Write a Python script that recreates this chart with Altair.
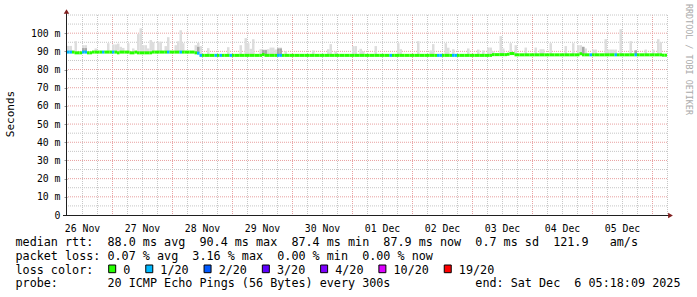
import altair as alt
import pandas as pd

# ---------------- data ----------------
HOUR = 3600 * 1000
START = int(pd.Timestamp("2025-11-26T06:00:00Z").value // 10**6)
N_HOURS = 240
END = START + N_HOURS * HOUR

day_labels = ["26 Nov", "27 Nov", "28 Nov", "29 Nov", "30 Nov",
              "01 Dec", "02 Dec", "03 Dec", "04 Dec", "05 Dec"]

# median rtt (ms), one value per hour starting 26 Nov 06:00
median_rtt = [
    89.6, 89.6, 89.6, 89.2, 89.2, 89.2, 89.6, 89.6, 89.2, 89.2, 89.6, 89.6,
    89.6, 89.6, 89.6, 89.6, 89.6, 89.6, 89.6, 89.6, 89.2, 89.6, 89.6, 89.6,
    89.6, 89.2, 89.2, 89.6, 89.2, 89.2, 89.2, 89.2, 89.2, 89.2, 89.6, 89.6,
    89.6, 89.6, 89.6, 89.6, 89.6, 89.6, 89.6, 89.6, 89.6, 89.6, 89.6, 89.6,
    89.6, 89.6, 89.6, 89.2, 89.0, 87.8, 87.8, 87.8, 87.8, 87.8, 87.8, 87.8,
    87.8, 87.8, 87.8, 87.8, 87.8, 87.8, 87.8, 87.8, 87.8, 87.8, 87.8, 87.8,
    87.8, 87.8, 87.8, 87.8, 87.8, 87.8, 88.2, 87.8, 87.8, 87.8, 87.8, 87.8,
    87.8, 87.8, 87.8, 87.8, 87.8, 87.8, 87.8, 87.8, 87.8, 87.8, 87.8, 87.8,
    87.8, 87.8, 87.8, 87.8, 87.8, 87.8, 87.8, 87.8, 87.8, 87.8, 87.8, 87.8,
    87.8, 87.8, 87.8, 87.8, 87.8, 87.8, 87.8, 87.8, 87.8, 87.8, 87.8, 87.8,
    87.8, 87.8, 87.8, 87.8, 87.8, 87.8, 87.8, 87.8, 87.8, 87.8, 87.8, 87.8,
    87.8, 87.8, 87.8, 87.8, 87.8, 87.8, 87.8, 87.8, 87.8, 87.8, 87.8, 87.8,
    87.8, 87.8, 87.8, 87.8, 87.8, 87.8, 87.8, 87.8, 87.8, 87.8, 87.8, 87.8,
    87.8, 87.8, 87.8, 87.8, 87.8, 87.8, 87.8, 87.8, 87.8, 87.8, 87.8, 87.8,
    87.8, 87.8, 88.2, 88.2, 88.2, 88.2, 88.2, 88.2, 88.4, 88.8, 88.8, 88.1,
    88.1, 88.1, 88.1, 88.1, 88.1, 88.1, 88.1, 88.1, 88.1, 88.1, 88.1, 88.1,
    88.1, 88.1, 88.1, 88.1, 88.1, 88.1, 88.1, 88.1, 88.1, 88.1, 88.1, 88.1,
    88.1, 88.7, 88.1, 88.1, 88.1, 88.1, 88.1, 88.1, 88.1, 88.1, 88.1, 88.1,
    88.1, 88.1, 88.1, 88.1, 88.1, 88.1, 88.1, 88.1, 88.1, 88.1, 88.1, 88.1,
    88.1, 88.1, 88.1, 88.1, 88.1, 88.1, 88.1, 88.1, 88.1, 88.1, 87.9, 87.9,
]

# hours with 1/20 packet loss
loss_hours = [0, 1, 6, 7, 14, 18, 40, 45, 52, 53, 59, 61, 65, 84, 85, 129,
              148, 149, 154, 155, 209, 219, 227]

# light smoke: hour index and top of the ping spread (ms)
smoke_hours = [0, 1, 3, 6, 7, 11, 16, 18, 19, 20, 21, 22, 24, 26, 28, 29, 30,
               31, 32, 33, 34, 36, 37, 39, 40, 43, 44, 45, 46, 51, 52, 53, 56,
               64, 69, 71, 72, 73, 74, 77, 78, 79, 80, 81, 82, 83, 84, 85, 87,
               98, 104, 105, 107, 114, 115, 117, 118, 123, 132, 133, 140, 145,
               146, 151, 152, 154, 160, 164, 166, 168, 169, 170, 173, 174, 177,
               179, 183, 187, 189, 190, 193, 199, 202, 204, 205, 206, 207, 210,
               211, 215, 216, 217, 218, 219, 221, 225, 227, 231, 234, 236, 237]
smoke_top = [93.0, 93.0, 95.6, 93.4, 93.4, 91.6, 94.5, 93.8, 93.8, 94.3, 92.5,
             91.9, 94.5, 91.6, 99.5, 102.7, 93.4, 93.4, 91.6, 96.2, 95.0, 95.3,
             95.3, 92.9, 97.8, 93.4, 95.5, 101.6, 94.5, 93.4, 94.7, 92.9, 91.8,
             92.3, 93.4, 97.3, 94.5, 91.4, 96.7, 91.2, 91.0, 91.0, 91.2, 92.1,
             92.1, 91.0, 92.1, 92.1, 90.2, 90.5, 91.2, 94.0, 90.0, 92.9, 92.9,
             91.4, 90.0, 92.9, 94.5, 91.2, 95.6, 90.5, 94.0, 94.5, 92.0, 91.2,
             91.6, 91.0, 90.5, 92.1, 92.1, 90.0, 98.4, 91.6, 94.5, 93.4, 92.1,
             92.1, 91.2, 91.2, 94.5, 92.9, 94.5, 93.4, 93.4, 92.5, 91.6, 91.0,
             91.0, 96.7, 91.0, 91.0, 91.0, 91.0, 102.2, 95.6, 90.2, 91.0, 91.0,
             96.7, 95.0]

# darker (denser) smoke
mid_hours = [6, 7, 52, 78, 79, 84, 85, 206, 227]
mid_top = [91.8, 91.8, 92.5, 90.7, 90.7, 91.6, 91.6, 92.5, 90.6]

loss_levels = ["0", "1/20", "2/20", "3/20", "4/20", "10/20", "19/20"]
loss_values = [0, 1, 2, 3, 4, 10, 19]
loss_colors = ["#26ff00", "#00b8ff", "#0059ff", "#5e00ff", "#7e00ff", "#dd00ff", "#ff0000"]

legend_lines = [
    "median rtt:  88.0 ms avg  90.4 ms max  87.4 ms min  87.9 ms now  0.7 ms sd  121.9   am/s",
    "packet loss: 0.07 % avg  3.16 % max  0.00 % min  0.00 % now",
    "loss color:",
    "probe:       20 ICMP Echo Pings (56 Bytes) every 300s            end: Sat Dec  6 05:18:09 2025",
]

# ---------------- tables ----------------
W, H = 600, 200
MONO = "DejaVu Sans Mono"
GRID_MINOR = "#c6c6c6"
GRID_MAJOR = "#e8a0a0"

med = pd.DataFrame({"h": list(range(N_HOURS)), "median": median_rtt})
med["loss"] = [1 if h in loss_hours else 0 for h in med["h"]]
med["t"] = START + med["h"] * HOUR
med["t2"] = med["t"] + HOUR

smoke = pd.DataFrame({"h": smoke_hours, "top": smoke_top})
smoke["base"] = [median_rtt[h] for h in smoke_hours]
smoke["t"] = START + smoke["h"] * HOUR
smoke["t2"] = smoke["t"] + HOUR

mid = pd.DataFrame({"h": mid_hours, "top": mid_top})
mid["base"] = [median_rtt[h] for h in mid_hours]
mid["t"] = START + mid["h"] * HOUR
mid["t2"] = mid["t"] + HOUR

vgrid = pd.DataFrame({"h": list(range(6, N_HOURS + 1, 6))})
vgrid["t"] = START + vgrid["h"] * HOUR
vgrid["gc"] = [GRID_MAJOR if (h - 18) % 24 == 0 else GRID_MINOR for h in vgrid["h"]]
hgrid = pd.DataFrame({"v": list(range(5, 111, 5))})
hgrid["gc"] = [GRID_MAJOR if (v % 10 == 0 and v <= 100) else GRID_MINOR for v in hgrid["v"]]

noon_ticks = [START + (6 + 24 * i) * HOUR for i in range(len(day_labels))]
label_js = "[" + ",".join("'%s'" % d for d in day_labels) + "]"
x_label_expr = "%s[round((datum.value - %d) / 86400000 - 0.25)]" % (label_js, START)

xs = alt.Scale(type="utc", domain=[START, END], nice=False)
ys = alt.Scale(domain=[0, 110], nice=False, zero=True)

# one identical axis definition used by every layer (so they merge cleanly)
XAX = alt.Axis(values=noon_ticks, labelExpr=x_label_expr, grid=False, domain=False,
               ticks=False, labelPadding=8, labelFont=MONO, labelFontSize=9.8,
               labelColor="#000000", labelAngle=0, labelFlush=False,
               labelOverlap=False, title=None)
YAX = alt.Axis(values=list(range(0, 101, 10)),
               labelExpr="datum.value == 0 ? '0' : datum.value + ' m'",
               grid=False, domain=False, tickSize=3, tickColor="#999999",
               labelPadding=4, labelFont=MONO, labelFontSize=9.8,
               labelColor="#000000", title=None)

one = pd.DataFrame({"a": [0]})

# ---------------- layers ----------------
vgrid_layer = alt.Chart(vgrid).mark_rule(
    strokeDash=[1, 1], strokeWidth=1, xOffset=0.5
).encode(x=alt.X("t:T", scale=xs, axis=XAX), stroke=alt.Stroke("gc:N", scale=None))
hgrid_layer = alt.Chart(hgrid).mark_rule(
    strokeDash=[1, 1], strokeWidth=1
).encode(y=alt.Y("v:Q", scale=ys, axis=YAX), stroke=alt.Stroke("gc:N", scale=None))

smoke_layer = alt.Chart(smoke).mark_rect(color="#dddddd").encode(
    x=alt.X("t:T", scale=xs, axis=XAX), x2="t2:T",
    y=alt.Y("base:Q", scale=ys, axis=YAX), y2="top:Q")
mid_layer = alt.Chart(mid).mark_rect(color="#a9a9a9").encode(
    x=alt.X("t:T", scale=xs, axis=XAX), x2="t2:T",
    y=alt.Y("base:Q", scale=ys, axis=YAX), y2="top:Q")

median_layer = alt.Chart(med).mark_rule(strokeWidth=3, strokeCap="butt").encode(
    x=alt.X("t:T", scale=xs, axis=XAX), x2="t2:T",
    y=alt.Y("median:Q", scale=ys, axis=YAX),
    color=alt.Color("loss:O", scale=alt.Scale(domain=loss_values, range=loss_colors),
                    legend=None))

AXIS_COL = "#1f1f1f"
ARROW_COL = "#801f1f"
yaxis_line = alt.Chart(one).mark_rule(color=AXIS_COL, strokeWidth=1).encode(
    x=alt.value(-0.5), y=alt.value(-4), y2=alt.value(H))
xaxis_line = alt.Chart(one).mark_rule(color=AXIS_COL, strokeWidth=1).encode(
    x=alt.value(-4), x2=alt.value(W + 2), y=alt.value(H + 0.5))
arrow_up = alt.Chart(one).mark_point(shape="triangle-up", filled=True, size=30,
                                      color=ARROW_COL, opacity=1).encode(
    x=alt.value(-0.5), y=alt.value(-3.5))
arrow_right = alt.Chart(one).mark_point(shape="triangle-right", filled=True, size=30,
                                         color=ARROW_COL, opacity=1).encode(
    x=alt.value(W + 3.5), y=alt.value(H + 0.5))

y_title = alt.Chart(one).mark_text(angle=270, font=MONO, fontSize=11, align="center",
                                   baseline="middle", color="#000000").encode(
    x=alt.value(-56.5), y=alt.value(99), text=alt.value("Seconds"))
credit = alt.Chart(one).mark_text(angle=90, font=MONO, fontSize=8.4, align="center",
                                  baseline="middle", color="#aaaaaa").encode(
    x=alt.value(621.5), y=alt.value(44.5), text=alt.value("RRDTOOL / TOBI OETIKER"))

# legend text lines
LEG_X = -51.5
LEG_Y0 = 231.3
LEG_DY = 13.7
CHAR_W = 7.07
leg = pd.DataFrame({
    "x": [LEG_X] * len(legend_lines),
    "y": [LEG_Y0 + i * LEG_DY for i in range(len(legend_lines))],
    "txt": [s.replace(" ", "\u00a0") for s in legend_lines],
})
leg_text = alt.Chart(leg).mark_text(align="left", baseline="alphabetic", font=MONO,
                                    fontSize=11.75, color="#000000").encode(
    x=alt.X("x:Q", scale=None), y=alt.Y("y:Q", scale=None), text="txt:N")

# loss colour boxes
box_rows = []
bx = 41.7
row_y = LEG_Y0 + 2 * LEG_DY
for lab, colr in zip(loss_levels, loss_colors):
    tx = bx + 14.6
    box_rows.append({"bx": bx, "bx2": bx + 7, "by": row_y - 8.7, "by2": row_y - 1,
                     "col": colr, "tx": tx, "ty": row_y, "lab": lab})
    bx = tx + len(lab) * CHAR_W + 15.4
boxes = pd.DataFrame(box_rows)
box_layer = alt.Chart(boxes).mark_rect(stroke="#000000", strokeWidth=1).encode(
    x=alt.X("bx:Q", scale=None), x2="bx2:Q",
    y=alt.Y("by:Q", scale=None), y2="by2:Q",
    fill=alt.Fill("col:N", scale=None))
box_text = alt.Chart(boxes).mark_text(align="left", baseline="alphabetic", font=MONO,
                                      fontSize=11.75, color="#000000").encode(
    x=alt.X("tx:Q", scale=None), y=alt.Y("ty:Q", scale=None), text="lab:N")

chart = alt.layer(
    vgrid_layer, hgrid_layer, smoke_layer, mid_layer, median_layer,
    yaxis_line, xaxis_line, arrow_up, arrow_right, y_title, credit,
    leg_text, box_layer, box_text,
).properties(
    width=W, height=H,
    padding={"left": 67, "top": 15, "right": 30, "bottom": 82},
    autosize=alt.AutoSizeParams(type="none"),
    background="#ffffff",
).configure_view(strokeWidth=0)

chart.save("out.html", embed_options={"renderer": "svg", "actions": False})
